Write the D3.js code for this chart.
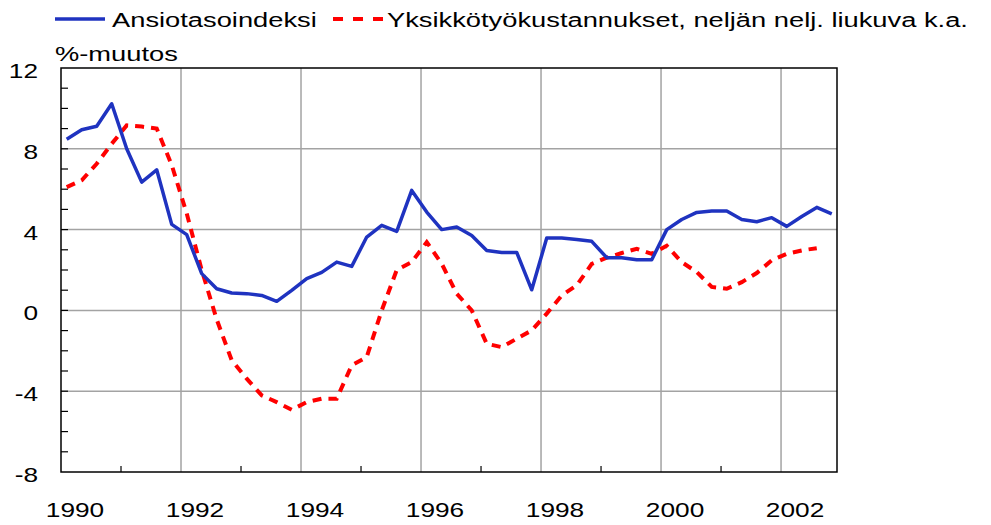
<!DOCTYPE html>
<html>
<head>
<meta charset="utf-8">
<script src="https://cdn.jsdelivr.net/npm/d3@7"></script>
<style>
  body { margin: 0; background: #fff; }
  svg { display: block; font-family: "Liberation Sans", Arial, sans-serif; }
</style>
</head>
<body>
<svg id="chart" width="991" height="525"></svg>
<script>
// quarterly data 1990Q1 - 2002Q4
const years = d3.range(1990, 2003);
const quarters = years.flatMap(y => [1, 2, 3, 4].map(q => `${y}Q${q}`));

const ansiotaso = [8.47, 8.94, 9.12, 10.23, 8.0, 6.35, 6.96, 4.26, 3.75, 1.82, 1.07, 0.86, 0.83,
  0.74, 0.45, 0.99, 1.57, 1.88, 2.39, 2.18, 3.63, 4.21, 3.91, 5.94, 4.87, 4.0, 4.13, 3.71,
  2.97, 2.87, 2.87, 1.02, 3.58, 3.58, 3.51, 3.42, 2.61, 2.61, 2.51, 2.51, 4.0, 4.5, 4.85,
  4.92, 4.92, 4.5, 4.39, 4.59, 4.16, 4.65, 5.1, 4.78];

const yksikko = [6.1, 6.44, 7.26, 8.25, 9.16, 9.1, 9.0, 7.2, 4.8, 2.0, -0.45, -2.47, -3.38,
  -4.21, -4.54, -4.92, -4.54, -4.37, -4.37, -2.72, -2.31, 0.0, 2.0, 2.39, 3.38, 2.31, 0.83,
  0.0, -1.65, -1.82, -1.4, -0.99, -0.16, 0.74, 1.24, 2.3, 2.61, 2.84, 3.05, 2.8, 3.2, 2.39,
  1.9, 1.16, 1.07, 1.4, 1.85, 2.48, 2.8, 2.97, 3.08];

const yTicks = [12, 8, 4, 0, -4, -8];
const xLabels = ["1990", "1992", "1994", "1996", "1998", "2000", "2002"];

const seriesNames = ["Ansiotasoindeksi", "Yksikkötyökustannukset, neljän nelj. liukuva k.a."];

const svg = d3.select("#chart");
const pLeft = 61, pRight = 837, pTop = 68, pBottom = 472;

const x = d3.scaleLinear().domain([0, 51.73]).range([pLeft, pRight]);
const y = d3.scaleLinear().domain([-8, 12]).range([pBottom, pTop]);
const px = i => x(i + 0.38);

// gridlines
const grid = svg.append("g").attr("stroke", "#a3a3a3").attr("stroke-width", 1.5);
grid.selectAll("line.h")
  .data([8, 4, 0, -4])
  .join("line")
    .attr("class", "h")
    .attr("x1", pLeft).attr("x2", pRight)
    .attr("y1", d => y(d)).attr("y2", d => y(d));
grid.selectAll("line.v")
  .data(d3.range(8, 49, 8))
  .join("line")
    .attr("class", "v")
    .attr("x1", d => x(d)).attr("x2", d => x(d))
    .attr("y1", pTop).attr("y2", pBottom);

// minor ticks
const ticks = svg.append("g").attr("stroke", "#000").attr("stroke-width", 1.2);
ticks.selectAll("line.yt")
  .data(d3.range(-7, 12))
  .join("line")
    .attr("class", "yt")
    .attr("x1", pLeft).attr("x2", pLeft + 7)
    .attr("y1", d => y(d)).attr("y2", d => y(d));
ticks.selectAll("line.xt")
  .data(d3.range(4, 48, 8))
  .join("line")
    .attr("class", "xt")
    .attr("x1", d => x(d)).attr("x2", d => x(d))
    .attr("y1", pBottom).attr("y2", pBottom - 6);

// frame
svg.append("rect")
  .attr("x", pLeft).attr("y", pTop)
  .attr("width", pRight - pLeft).attr("height", pBottom - pTop)
  .attr("fill", "none").attr("stroke", "#000").attr("stroke-width", 1.5);

// series
const line = d3.line().x((d, i) => px(i)).y(d => y(d));

svg.append("path")
  .datum(yksikko)
  .attr("fill", "none")
  .attr("stroke", "#ff0000")
  .attr("stroke-width", 4)
  .attr("stroke-dasharray", "9,7")
  .attr("d", line);

svg.append("path")
  .datum(ansiotaso)
  .attr("fill", "none")
  .attr("stroke", "#1f33c0")
  .attr("stroke-width", 3.5)
  .attr("stroke-linejoin", "round")
  .attr("d", line);

// text helper (text in the original is drawn wide)
function label(g, tx, ty, str, anchor, stretch) {
  return g.append("text")
    .attr("transform", `translate(${tx},${ty}) scale(${stretch || 1.25},1)`)
    .attr("text-anchor", anchor || "start")
    .attr("font-size", 21)
    .attr("fill", "#000")
    .text(str);
}

// y axis labels
yTicks.forEach(v => label(svg, 38, y(v) + 10, String(v), "end"));

// x axis labels
xLabels.forEach((s, k) => label(svg, x(k * 8) + 14, 517, s, "middle"));

// unit
label(svg, 55, 61, "%-muutos", "start", 1.3);

// legend
svg.append("line")
  .attr("x1", 55).attr("x2", 105).attr("y1", 19).attr("y2", 19)
  .attr("stroke", "#1f33c0").attr("stroke-width", 3.5);
label(svg, 112, 27, seriesNames[0], "start", 1.3);

svg.append("line")
  .attr("x1", 333).attr("x2", 383).attr("y1", 19).attr("y2", 19)
  .attr("stroke", "#ff0000").attr("stroke-width", 4)
  .attr("stroke-dasharray", "10,10");
label(svg, 387, 27, seriesNames[1], "start", 1.3);
</script>
</body>
</html>
